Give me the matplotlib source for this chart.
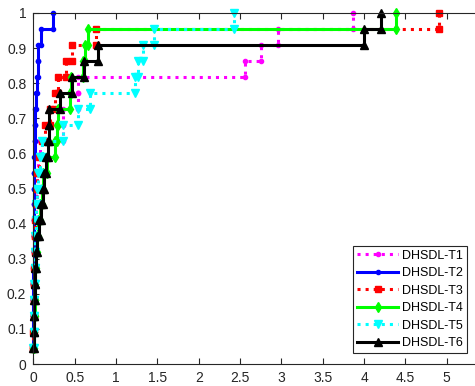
import numpy as np
import matplotlib
matplotlib.use("Agg")
import matplotlib.pyplot as plt

plt.rcParams['font.family'] = ['Liberation Sans', 'DejaVu Sans']

# 22 queries, cumulative fraction k/22 reached at each sorted value
n = 22
frac = np.arange(1, n + 1) / n

t1 = [0.0, 0.0, 0.005, 0.005, 0.01, 0.01, 0.015, 0.02, 0.025, 0.03, 0.035,
      0.045, 0.06, 0.08, 0.36, 0.36, 0.545, 0.545, 2.56, 2.75, 2.96, 3.87]
t2 = [0.0, 0.0, 0.0, 0.0, 0.0, 0.0, 0.005, 0.005, 0.01, 0.01, 0.01,
      0.01, 0.01, 0.015, 0.02, 0.025, 0.03, 0.04, 0.053, 0.06, 0.09, 0.235]
t3 = [0.0, 0.0, 0.005, 0.005, 0.01, 0.01, 0.015, 0.02, 0.025, 0.03, 0.04,
      0.05, 0.07, 0.10, 0.14, 0.2, 0.26, 0.30, 0.395, 0.464, 0.755, 4.9]
t4 = [0.0, 0.005, 0.01, 0.015, 0.02, 0.025, 0.03, 0.04, 0.06, 0.08, 0.10,
      0.12, 0.16, 0.26, 0.29, 0.30, 0.44, 0.45, 0.6, 0.62, 0.66, 4.39]
t5 = [0.0, 0.005, 0.005, 0.01, 0.01, 0.015, 0.02, 0.025, 0.03, 0.035, 0.04,
      0.06, 0.08, 0.1, 0.36, 0.545, 0.68, 1.23, 1.27, 1.33, 1.46, 2.43]
t6 = [0.0, 0.005, 0.01, 0.01, 0.015, 0.02, 0.03, 0.05, 0.07, 0.09, 0.12,
      0.13, 0.15, 0.175, 0.19, 0.194, 0.323, 0.464, 0.613, 0.786, 4.0, 4.2]

labels = ['DHSDL-T1', 'DHSDL-T2', 'DHSDL-T3', 'DHSDL-T4', 'DHSDL-T5', 'DHSDL-T6']
series = [t1, t2, t3, t4, t5, t6]
colors = ['#ff00ff', '#0000ff', '#ff0000', '#00ff00', '#00ffff', '#000000']
styles = [':', '-', ':', '-', ':', '-']
markers = ['o', 'o', 's', 'd', 'v', '^']
msizes = [3.0, 3.0, 5.0, 5.0, 6.0, 6.0]


def escalera(x, y):
    # vertices of the staircase: horizontal to the next value, then up
    x = np.asarray(x)
    xs = np.repeat(x, 2)[1:]
    ys = np.repeat(y, 2)[:-1]
    return xs, ys


fig = plt.figure(figsize=(4.75, 3.86), dpi=100)
ax = fig.add_axes([33.3 / 475, 22 / 386, 5.5 * 82.7 / 475, 351 / 386])

for x, lab, c, ls, m, ms in zip(series, labels, colors, styles, markers, msizes):
    xs, ys = escalera(x, frac)
    ax.plot(xs, ys, linestyle=ls, color=c, linewidth=2.2, marker=m,
            markersize=ms, markerfacecolor=c, markeredgecolor=c, label=lab,
            clip_on=False)

ax.set_xlim(0, 5.5)
ax.set_ylim(0, 1)
ax.set_xticks(np.arange(0, 5.01, 0.5))
ax.set_xticklabels(['0', '0.5', '1', '1.5', '2', '2.5', '3', '3.5', '4', '4.5', '5'])
ax.set_yticks(np.arange(0, 1.01, 0.1))
ax.set_yticklabels(['0', '0.1', '0.2', '0.3', '0.4', '0.5', '0.6', '0.7', '0.8', '0.9', '1'])
ax.tick_params(direction='in', top=True, right=True, length=4, width=0.8,
               labelsize=10, colors='#262626', pad=5)
for s in ax.spines.values():
    s.set_color('#262626')
    s.set_linewidth(0.8)

leg = ax.legend(loc='lower left', bbox_to_anchor=(353.3 / 475, 33 / 386),
                bbox_transform=fig.transFigure, borderaxespad=0, fontsize=9,
                handlelength=3.3, labelspacing=0.44, fancybox=False, framealpha=1,
                edgecolor='#262626', borderpad=0.3, handletextpad=0.3)
leg.get_frame().set_linewidth(0.8)

fig.savefig('out.png', dpi=100)
